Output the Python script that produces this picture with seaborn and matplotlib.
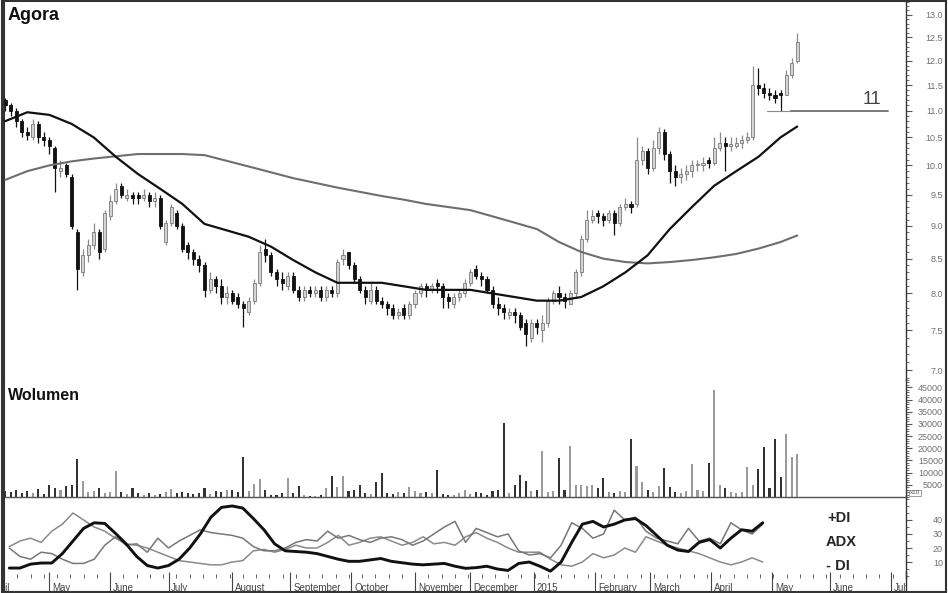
import numpy as np
import pandas as pd
import matplotlib
matplotlib.use("Agg")
import matplotlib.pyplot as plt
import seaborn as sns
from matplotlib.ticker import FixedLocator, MultipleLocator, FuncFormatter, NullFormatter
from matplotlib.patches import Rectangle

# ---------------- data ----------------
first_day = "2014-04-09"          # first candle; one candle per 2 sessions
calendar_start, calendar_end = "2014-04-01", "2015-07-31"

close = [11.1, 11.0, 10.8, 10.6, 10.55, 10.75, 10.5, 10.45, 10.35, 9.95,
         9.95, 9.85, 9.0, 8.35, 8.55, 8.7, 8.9, 8.6, 9.2, 9.4,
         9.6, 9.5, 9.5, 9.45, 9.45, 9.5, 9.4, 9.45, 9.0, 9.05,
         9.3, 9.0, 8.65, 8.6, 8.5, 8.4, 8.05, 8.2, 8.1, 7.95,
         8.0, 7.9, 7.85, 7.8, 7.9, 8.15, 8.6, 8.55, 8.3, 8.2,
         8.15, 8.25, 8.05, 7.95, 8.05, 8.0, 8.05, 7.95, 8.05, 8.0,
         8.45, 8.55, 8.4, 8.2, 8.05, 7.95, 8.05, 7.9, 7.85, 7.8,
         7.7, 7.75, 7.7, 7.85, 8.0, 8.1, 8.05, 8.1, 8.1, 7.95,
         7.9, 7.95, 8.0, 8.15, 8.3, 8.25, 8.2, 8.05, 7.85, 7.8,
         7.75, 7.75, 7.7, 7.55, 7.45, 7.6, 7.55, 7.6, 7.9, 8.0,
         7.95, 7.9, 8.0, 8.3, 8.8, 9.1, 9.15, 9.15, 9.1, 9.2,
         9.05, 9.3, 9.35, 9.3, 10.1, 10.25, 9.95, 10.3, 10.6, 10.2,
         9.9, 9.8, 9.85, 9.9, 10.0, 10.0, 10.05, 10.05, 10.3, 10.4,
         10.35, 10.35, 10.4, 10.45, 10.5, 11.5, 11.45, 11.35, 11.3, 11.25,
         11.3, 11.7, 11.95, 12.4]
open_ = [11.2, 11.1, 11.0, 10.8, 10.6, 10.5, 10.75, 10.5, 10.45, 10.3,
         9.9, 10.0, 9.8, 8.9, 8.3, 8.55, 8.7, 8.9, 8.65, 9.15,
         9.4, 9.65, 9.45, 9.5, 9.5, 9.45, 9.5, 9.4, 9.45, 8.75,
         9.05, 9.2, 9.0, 8.7, 8.6, 8.5, 8.4, 8.05, 8.2, 8.1,
         7.95, 8.0, 7.95, 7.85, 7.75, 7.9, 8.15, 8.65, 8.55, 8.3,
         8.2, 8.1, 8.25, 8.05, 7.95, 8.05, 8.0, 8.05, 7.95, 8.05,
         8.0, 8.5, 8.6, 8.4, 8.2, 8.05, 7.9, 8.05, 7.9, 7.85,
         7.8, 7.7, 7.8, 7.7, 7.85, 8.0, 8.1, 8.05, 8.15, 8.1,
         7.95, 7.85, 7.95, 8.0, 8.15, 8.35, 8.25, 8.2, 8.05, 7.85,
         7.8, 7.7, 7.75, 7.7, 7.6, 7.4, 7.6, 7.5, 7.6, 7.9,
         8.0, 7.95, 7.85, 8.0, 8.3, 8.8, 9.1, 9.2, 9.15, 9.1,
         9.2, 9.05, 9.3, 9.35, 9.35, 10.1, 10.25, 9.95, 10.3, 10.6,
         10.2, 9.9, 9.8, 9.85, 9.9, 10.0, 10.0, 10.1, 10.05, 10.3,
         10.4, 10.35, 10.35, 10.4, 10.45, 10.5, 11.5, 11.45, 11.35, 11.3,
         11.35, 11.3, 11.7, 12.0]
high = [11.25, 11.15, 11.05, 10.85, 10.7, 10.85, 10.8, 10.6, 10.5, 10.35,
        10.1, 10.05, 9.85, 8.95, 8.65, 8.8, 9.05, 8.95, 9.25, 9.5,
        9.7, 9.7, 9.6, 9.55, 9.55, 9.6, 9.55, 9.55, 9.5, 9.1,
        9.35, 9.25, 9.05, 8.75, 8.65, 8.55, 8.45, 8.3, 8.25, 8.2,
        8.1, 8.05, 8.0, 7.9, 7.95, 8.2, 8.7, 8.8, 8.6, 8.35,
        8.3, 8.3, 8.3, 8.1, 8.1, 8.1, 8.1, 8.1, 8.1, 8.1,
        8.5, 8.65, 8.6, 8.45, 8.25, 8.1, 8.15, 8.1, 7.95, 7.9,
        7.85, 7.8, 7.85, 7.9, 8.05, 8.15, 8.15, 8.15, 8.2, 8.15,
        8.0, 8.0, 8.05, 8.2, 8.35, 8.4, 8.3, 8.25, 8.1, 7.95,
        7.85, 7.8, 7.8, 7.75, 7.65, 7.65, 7.65, 7.7, 7.95, 8.05,
        8.1, 8.0, 8.05, 8.35, 8.85, 9.25, 9.25, 9.25, 9.2, 9.25,
        9.25, 9.35, 9.45, 9.4, 10.5, 10.35, 10.3, 10.45, 10.7, 10.65,
        10.25, 10.0, 9.95, 10.0, 10.1, 10.1, 10.15, 10.15, 10.5, 10.6,
        10.5, 10.5, 10.5, 10.55, 10.6, 11.9, 11.85, 11.55, 11.45, 11.4,
        11.4, 11.8, 12.05, 12.6]
low = [11.0, 10.9, 10.7, 10.5, 10.45, 10.45, 10.4, 10.35, 10.2, 9.55,
       9.8, 9.8, 8.95, 8.05, 8.25, 8.45, 8.65, 8.5, 8.6, 9.1,
       9.35, 9.45, 9.4, 9.35, 9.35, 9.4, 9.3, 9.3, 8.95, 8.7,
       9.0, 8.95, 8.6, 8.5, 8.4, 8.3, 7.95, 8.0, 8.0, 7.85,
       7.85, 7.85, 7.8, 7.55, 7.7, 7.85, 8.1, 8.45, 8.25, 8.1,
       8.05, 8.05, 8.0, 7.9, 7.9, 7.95, 7.95, 7.9, 7.9, 7.95,
       7.95, 8.4, 8.35, 8.15, 8.0, 7.85, 7.85, 7.85, 7.8, 7.7,
       7.65, 7.65, 7.65, 7.65, 7.8, 7.95, 7.95, 8.0, 8.0, 7.8,
       7.8, 7.8, 7.9, 7.95, 8.1, 8.2, 8.1, 8.0, 7.8, 7.7,
       7.65, 7.65, 7.6, 7.5, 7.3, 7.35, 7.45, 7.35, 7.55, 7.85,
       7.85, 7.8, 7.85, 7.95, 8.25, 8.75, 9.05, 9.05, 9.0, 9.05,
       8.85, 9.0, 9.25, 9.2, 9.3, 10.0, 9.85, 9.9, 10.2, 10.1,
       9.7, 9.65, 9.7, 9.75, 9.8, 9.9, 9.9, 9.95, 10.0, 10.25,
       9.9, 10.25, 10.3, 10.3, 10.4, 10.45, 11.3, 11.25, 11.2, 11.15,
       11.0, 11.3, 11.65, 11.95]
volume = [2500, 2000, 3000, 1500, 2500, 1800, 3200, 1200, 5000, 3500,
          2800, 4500, 5000, 15500, 6500, 2000, 2500, 3500, 1500, 2200,
          10500, 2000, 1200, 3500, 1800, 800, 1500, 1000, 1200, 2000,
          3200, 1500, 2000, 1500, 1200, 1800, 3500, 1200, 2500, 2000,
          2800, 3000, 2200, 16300, 2500, 5500, 7500, 3000, 1000, 800,
          1800, 8000, 1500, 4500, 800, 500, 600, 1000, 3500, 8800,
          4000, 8500, 2500, 2800, 5000, 1500, 1200, 6000, 10000, 1500,
          1200, 2000, 1800, 4000, 2500, 1500, 2200, 1500, 11000, 1200,
          1000, 800, 1500, 2800, 1200, 2000, 1500, 1000, 2500, 3000,
          30200, 1500, 5000, 9000, 6500, 2500, 3000, 18800, 2000, 2500,
          16200, 3000, 21000, 4800, 5000, 4500, 4800, 3800, 7700, 2000,
          1500, 2500, 2200, 23700, 12900, 6100, 3000, 2000, 4500, 12000,
          4000, 2000, 1800, 2500, 13400, 3000, 2500, 14000, 43900, 5000,
          3500, 2000, 1500, 2000, 12500, 4800, 11500, 20400, 3500, 24000,
          8400, 25900, 16300, 17700]
# moving averages, read every 4th candle plus the last one
ma_short = [10.8, 10.97, 10.92, 10.75, 10.5, 10.15, 9.85, 9.6, 9.35, 9.03,
            8.93, 8.83, 8.68, 8.48, 8.3, 8.15, 8.15, 8.15, 8.1, 8.05,
            8.05, 8.05, 8.0, 7.95, 7.9, 7.9, 7.95, 8.1, 8.3, 8.55,
            8.95, 9.3, 9.65, 9.9, 10.15, 10.5, 10.7]
ma_long = [9.75, 9.9, 10.0, 10.07, 10.12, 10.16, 10.2, 10.2, 10.2, 10.18,
           10.08, 9.98, 9.88, 9.78, 9.7, 9.62, 9.55, 9.48, 9.42, 9.35,
           9.3, 9.25, 9.15, 9.05, 8.95, 8.75, 8.6, 8.5, 8.45, 8.43,
           8.45, 8.48, 8.52, 8.57, 8.65, 8.75, 8.85]
# DMI, read every 2nd candle
plus_di = [20, 14, 12, 17, 16, 12, 9, 9, 12, 22,
           28, 22, 23, 17, 27, 20, 25, 29, 33, 31,
           30, 29, 27, 21, 18, 18, 20, 24, 26, 25,
           32, 27, 29, 26, 24, 27, 28, 26, 22, 25,
           30, 35, 39, 24, 34, 31, 28, 30, 18, 15,
           16, 13, 22, 38, 34, 27, 30, 47, 40, 42,
           32, 27, 25, 23, 34, 25, 27, 23, 38, 33,
           30, 37]
minus_di = [21, 25, 27, 24, 32, 37, 45, 40, 35, 32,
            27, 23, 22, 20, 17, 14, 11, 10, 9, 8,
            8, 10, 11, 18, 19, 17, 19, 22, 20, 20,
            24, 29, 22, 24, 27, 28, 25, 22, 24, 28,
            23, 24, 22, 28, 31, 27, 24, 20, 17, 17,
            17, 12, 8, 7, 10, 16, 13, 15, 20, 17,
            28, 25, 22, 20, 18, 16, 13, 10, 8, 10,
            13, 10]
adx = [5.7, 5.7, 8.5, 9.3, 9.3, 16, 25, 34, 38, 37.5,
       30.5, 23, 14, 7.5, 5.7, 7.5, 12, 20, 30, 42,
       49, 50, 48.5, 41, 33, 23, 18, 17.5, 17, 16,
       14, 12, 10.5, 10.5, 11.5, 12.5, 10.5, 9.5, 8.5, 8,
       8.5, 9, 7, 5.5, 6, 7, 5, 4, 9, 10,
       7, 3.5, 10, 24, 37, 39, 35, 37, 40, 41,
       36, 29, 22, 18.5, 17.5, 24, 26, 20, 27, 33,
       32, 38]
support_level = 11.0
month_names = ["April", "May", "June", "July", "August", "September", "October",
               "November", "December", "2015", "February", "March", "April",
               "May", "June", "July"]
price_ticks = [7.0, 7.5, 8.0, 8.5, 9.0, 9.5, 10.0, 10.5, 11.0, 11.5, 12.0, 12.5, 13.0]
volume_ticks = [5000, 10000, 15000, 20000, 25000, 30000, 35000, 40000, 45000]
di_ticks = [10, 20, 30, 40]

# ---------------- positions from the session calendar ----------------
calendar = pd.bdate_range(calendar_start, calendar_end)
origin = calendar.get_loc(pd.Timestamp(first_day))
session_pos = np.arange(len(calendar)) - origin
n = len(close)
cpos = session_pos[origin:origin + 2 * n:2]
ma_pos = np.append(cpos[::4], cpos[-1])
di_pos = cpos[::2]
month_first = pd.Series(session_pos, index=calendar).groupby([calendar.year, calendar.month]).first().values
mondays = session_pos[calendar.dayofweek == 0]

o = np.array(open_); c = np.array(close); h = np.array(high); l = np.array(low)
up = c >= o

# ---------------- style ----------------
sns.set_style("white")
plt.rcParams["font.family"] = ["Liberation Sans", "DejaVu Sans"]

W_PX, H_PX = 948, 593
fig = plt.figure(figsize=(W_PX / 100, H_PX / 100), dpi=100)
fig.patch.set_facecolor("white")
L = 4 / W_PX
W = 902 / W_PX
XLIM = (-0.4, 325.3)


def fy(px):
    return 1 - px / H_PX


ax_p = fig.add_axes([L, fy(380), W, 380 / H_PX])
ax_v = fig.add_axes([L, fy(497), W, 117 / H_PX])
ax_d = fig.add_axes([L, fy(578), W, 81 / H_PX])
ax_m = fig.add_axes([L, 0, W, 21 / H_PX])

TICK_C = "#555555"
LAB_C = "#707070"


def right_axis(ax, major, minor_loc, fmt, pad_px=31):
    ax.yaxis.tick_right()
    ax.yaxis.set_major_locator(FixedLocator(major))
    ax.yaxis.set_minor_locator(minor_loc)
    ax.yaxis.set_major_formatter(FuncFormatter(fmt))
    ax.yaxis.set_minor_formatter(NullFormatter())
    ax.tick_params(axis="y", which="major", length=4.3, width=0.8, color=TICK_C,
                   labelsize=6.5, labelcolor=LAB_C, pad=pad_px * 0.72)
    ax.tick_params(axis="y", which="minor", length=2.2, width=0.6, color=TICK_C)
    ax.tick_params(axis="x", which="both", bottom=False, top=False, labelbottom=False)
    for t in ax.get_yticklabels():
        t.set_horizontalalignment("right")


for ax in (ax_p, ax_v, ax_d, ax_m):
    ax.set_xlim(*XLIM)
    ax.patch.set_alpha(0)
    for s in ax.spines.values():
        s.set_visible(False)
    ax.spines["right"].set_visible(True)
    ax.spines["right"].set_linewidth(1.0)
    ax.spines["right"].set_color("#333333")
    ax.spines["left"].set_visible(True)
    ax.spines["left"].set_linewidth(1.5)
    ax.spines["left"].set_color("#333333")

# ---------------- price panel ----------------
ax_p.set_yscale("log")
ax_p.set_ylim(6.88, 13.34)
wick_col = np.where(up, "#8a8a8a", "#111111")
ax_p.vlines(cpos, l, h, colors=wick_col, linewidth=0.9, zorder=2)
body_lo = np.minimum(o, c)
body_h = np.maximum(np.abs(c - o), 0.025)
ax_p.bar(cpos[up], body_h[up], bottom=body_lo[up], width=1.1, color="#d4d4d4",
         edgecolor="#7a7a7a", linewidth=0.6, zorder=3)
ax_p.bar(cpos[~up], body_h[~up], bottom=body_lo[~up], width=1.1, color="#111111",
         edgecolor="#111111", linewidth=0.6, zorder=3)
sns.lineplot(x=ma_pos, y=ma_long, ax=ax_p, color="#6e6e6e", linewidth=1.5,
             estimator=None, sort=False, legend=False, zorder=4)
sns.lineplot(x=ma_pos, y=ma_short, ax=ax_p, color="#111111", linewidth=1.6,
             estimator=None, sort=False, legend=False, zorder=5)
ax_p.axhline(support_level, xmin=0.846, xmax=0.872, color="#8a8a8a", linewidth=0.8)
ax_p.axhline(support_level, xmin=0.872, xmax=0.980, color="#7a7a7a", linewidth=1.4)
ax_p.annotate("11", xy=(0.962, support_level), xycoords=("axes fraction", "data"),
              xytext=(0, 2), textcoords="offset points", ha="center", va="bottom",
              fontsize=13, color="#444444")
ax_p.spines["top"].set_visible(True)
ax_p.spines["top"].set_linewidth(1.5)
right_axis(ax_p, price_ticks, FixedLocator(np.round(np.arange(6.9, 13.35, 0.1), 2)),
           lambda v, p: f"{v:.1f}")
ax_p.set_xlabel(""); ax_p.set_ylabel("")

# ---------------- volume panel ----------------
ax_v.set_ylim(0, 48000)
vol_col = np.where(up, "#9a9a9a", "#333333")
ax_v.bar(cpos, volume, width=0.75, color=vol_col, linewidth=0)
ax_v.spines["bottom"].set_visible(True)
ax_v.spines["bottom"].set_linewidth(1.0)
ax_v.spines["bottom"].set_color("#555555")
right_axis(ax_v, volume_ticks, MultipleLocator(1000), lambda v, p: f"{int(v)}")

# ---------------- DMI panel ----------------
ax_d.set_ylim(-1.4, 56.4)
sns.lineplot(x=di_pos, y=minus_di, ax=ax_d, color="#8a8a8a", linewidth=1.1,
             estimator=None, sort=False, legend=False)
sns.lineplot(x=di_pos, y=plus_di, ax=ax_d, color="#777777", linewidth=1.1,
             estimator=None, sort=False, legend=False)
sns.lineplot(x=di_pos, y=adx, ax=ax_d, color="#111111", linewidth=2.1,
             estimator=None, sort=False, legend=False)
right_axis(ax_d, di_ticks, MultipleLocator(5), lambda v, p: f"{int(v)}")
ax_d.set_xticks(mondays, minor=True)
ax_d.tick_params(axis="x", which="minor", bottom=True, direction="in", length=3,
                 width=0.7, color="#666666")
ax_d.set_xlabel(""); ax_d.set_ylabel("")

# ---------------- month strip ----------------
ax_m.set_ylim(0, 1)
ax_m.set_yticks([]); ax_m.set_xticks([])
ax_m.vlines(month_first, 0, 1, colors="#444444", linewidth=0.8)
for p, name in zip(month_first, month_names):
    ax_m.text(p + 1.0, 0.25, name, fontsize=7, color="#444444", ha="left",
              va="center", clip_on=True)

# ---------------- titles & labels ----------------
fig.text(8 / W_PX, fy(15), "Agora", fontsize=13, fontweight="bold", va="center", color="#111111")
fig.text(8 / W_PX, fy(395), "Wolumen", fontsize=11.5, fontweight="bold", va="center", color="#111111")
fig.text(827 / W_PX, fy(518), "+DI", fontsize=10.5, fontweight="bold", va="center")
fig.text(826 / W_PX, fy(542), "ADX", fontsize=10.5, fontweight="bold", va="center")
fig.text(826 / W_PX, fy(566), "- DI", fontsize=10.5, fontweight="bold", va="center")
fig.text(915 / W_PX, fy(493), "x10", fontsize=4.5, color="#555555", ha="center", va="center",
         bbox=dict(boxstyle="square,pad=0.15", fc="white", ec="#777777", lw=0.5))

fig.add_artist(Rectangle((0.002, 0.002), 0.996, 0.996, transform=fig.transFigure,
                         fill=False, edgecolor="#333333", linewidth=1.5))

fig.savefig("out.png", dpi=100, facecolor="white")
